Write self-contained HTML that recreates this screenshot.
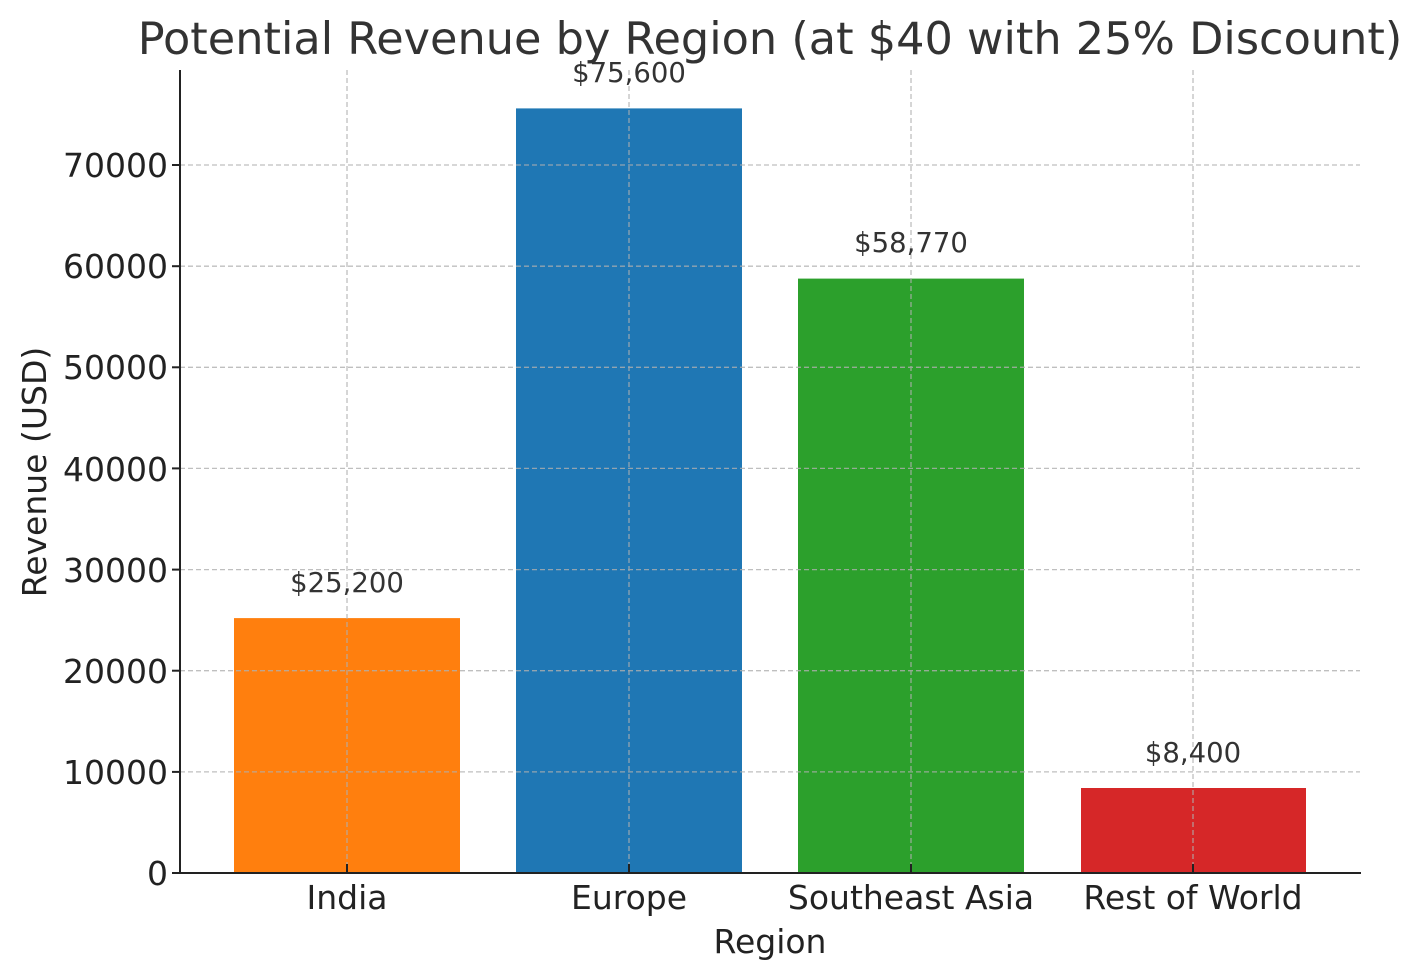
<!DOCTYPE html>
<html><head><meta charset="utf-8"><style>body{margin:0;background:#fff}svg{display:block}</style></head><body>
<svg width="1421" height="980" xmlns="http://www.w3.org/2000/svg" font-family="DejaVu Sans, Liberation Sans, sans-serif">
<rect width="1421" height="980" fill="#fff"/>
<text x="770" y="54" font-size="44.6" text-anchor="middle" fill="#333">Potential Revenue by Region (at $40 with 25% Discount)</text>
<rect x="234" y="618.1" width="226" height="254.9" fill="#ff7f0e"/>
<rect x="516" y="108.4" width="226" height="764.6" fill="#1f77b4"/>
<rect x="798" y="278.6" width="226" height="594.4" fill="#2ca02c"/>
<rect x="1081" y="788" width="225" height="85" fill="#d62728"/>
<g stroke="#b0b0b0" stroke-width="1.3" stroke-dasharray="5,3" opacity="0.8">
<line x1="180" x2="1360" y1="771.9" y2="771.9"/><line x1="180" x2="1360" y1="670.7" y2="670.7"/>
<line x1="180" x2="1360" y1="569.6" y2="569.6"/><line x1="180" x2="1360" y1="468.4" y2="468.4"/>
<line x1="180" x2="1360" y1="367.3" y2="367.3"/><line x1="180" x2="1360" y1="266.2" y2="266.2"/>
<line x1="180" x2="1360" y1="165" y2="165"/>
<line x1="347" x2="347" y1="70" y2="873"/><line x1="629" x2="629" y1="70" y2="873"/>
<line x1="911" x2="911" y1="70" y2="873"/><line x1="1193" x2="1193" y1="70" y2="873"/>
</g>
<g stroke="#222" stroke-width="2"><line x1="180" y1="70" x2="180" y2="874"/><line x1="179" y1="873" x2="1361" y2="873"/></g>
<g stroke="#222" stroke-width="2">
<line x1="172" x2="180" y1="873" y2="873"/><line x1="172" x2="180" y1="771.9" y2="771.9"/><line x1="172" x2="180" y1="670.7" y2="670.7"/><line x1="172" x2="180" y1="569.6" y2="569.6"/><line x1="172" x2="180" y1="468.4" y2="468.4"/><line x1="172" x2="180" y1="367.3" y2="367.3"/><line x1="172" x2="180" y1="266.2" y2="266.2"/><line x1="172" x2="180" y1="165" y2="165"/>
<line x1="347" x2="347" y1="873" y2="864"/><line x1="629" x2="629" y1="873" y2="864"/><line x1="911" x2="911" y1="873" y2="864"/><line x1="1193" x2="1193" y1="873" y2="864"/>
</g>
<g font-size="33" fill="#222" text-anchor="end">
<text x="168" y="885">0</text><text x="168" y="784">10000</text><text x="168" y="683">20000</text><text x="168" y="582">30000</text><text x="168" y="481">40000</text><text x="168" y="379">50000</text><text x="168" y="278">60000</text><text x="168" y="177">70000</text>
</g>
<g font-size="33" fill="#222" text-anchor="middle">
<text x="347" y="909">India</text><text x="629" y="909">Europe</text><text x="911" y="909">Southeast Asia</text><text x="1193" y="909">Rest of World</text>
<text x="770" y="953">Region</text>
<text transform="translate(46,472) rotate(-90)">Revenue (USD)</text>
</g>
<g font-size="27.5" fill="#333" text-anchor="middle">
<text x="347" y="592">$25,200</text><text x="629" y="82">$75,600</text><text x="911" y="252">$58,770</text><text x="1193" y="762">$8,400</text>
</g>
</svg>
</body></html>
